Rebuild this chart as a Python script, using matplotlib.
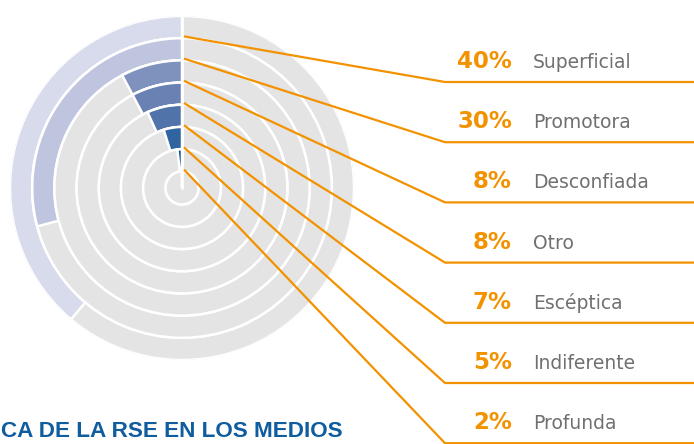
import numpy as np
import matplotlib
matplotlib.use("Agg")
import matplotlib.pyplot as plt

# ---- data ----
categories = ["Superficial", "Promotora", "Desconfiada", "Otro", "Escéptica", "Indiferente", "Profunda"]
values = [40, 30, 8, 8, 7, 5, 2]
pct_labels = ["40%", "30%", "8%", "8%", "7%", "5%", "2%"]
title_text = "CA DE LA RSE EN LOS MEDIOS"

# ---- style ----
ring_colors = ["#d8dbeb", "#bfc5df", "#7f92bd", "#6a81b4", "#5073aa", "#2f64a0", "#15589a"]
gray = "#e3e4e3"
orange = "#f39200"
label_gray = "#707070"
blue = "#0f5c9e"
scale_max = 103.0

W, H = 694, 444
fig = plt.figure(figsize=(W / 100, H / 100), dpi=100)

cx, cy, R = 182, 188, 172
axp = fig.add_axes([(cx - R) / W, (H - cy - R) / H, 2 * R / W, 2 * R / H], projection="polar")
axp.set_theta_zero_location("N")
axp.set_theta_direction(1)
hole = 0.75
n = len(categories)
axp.set_ylim(0, hole + n)
axp.set_axis_off()
axp.patch.set_alpha(0)

# center disk
axp.bar(0, hole, width=2 * np.pi, bottom=0, align="edge", color=gray,
        edgecolor="white", linewidth=1.8)
# rings: outermost = first category
for i, (v, c) in enumerate(zip(values, ring_colors)):
    bottom = hole + (n - 1 - i)
    axp.bar(0, 1, width=2 * np.pi, bottom=bottom, align="edge", color=gray,
            edgecolor="white", linewidth=1.8)
    axp.bar(0, 1, width=v / scale_max * 2 * np.pi, bottom=bottom, align="edge",
            color=c, edgecolor="white", linewidth=1.8)
# white vertical line at 12 o'clock
axp.plot([0, 0], [0, hole + n], color="white", lw=1.8)

# overlay axes in pixel coordinates
ax = fig.add_axes([0, 0, 1, 1])
ax.set_xlim(0, W)
ax.set_ylim(H, 0)
ax.set_axis_off()
ax.patch.set_alpha(0)

fig.canvas.draw()
line_y0, line_dy = 82, 60.2
kink_x = 445
for i, (cat, pl) in enumerate(zip(categories, pct_labels)):
    r_start = hole + (n - 1 - i) + 0.08
    px, py = axp.transData.transform((0.0, r_start))
    sx, sy = px + 2, H - py
    ly = line_y0 + line_dy * i
    ax.plot([sx, kink_x, W + 5], [sy, ly, ly], color=orange, lw=1.6,
            solid_capstyle="butt", clip_on=False)
    ax.text(512, ly - 14, pl, ha="right", va="baseline", color=orange,
            fontsize=16.5, fontweight="bold", family="DejaVu Sans")
    ax.text(533, ly - 14, cat, ha="left", va="baseline", color=label_gray,
            fontsize=13.5, family="DejaVu Sans")

ax.text(1, 437, title_text, ha="left", va="baseline", color=blue,
        fontsize=16.2, fontweight="bold", family="Liberation Sans")

fig.savefig("out.png", dpi=100)
